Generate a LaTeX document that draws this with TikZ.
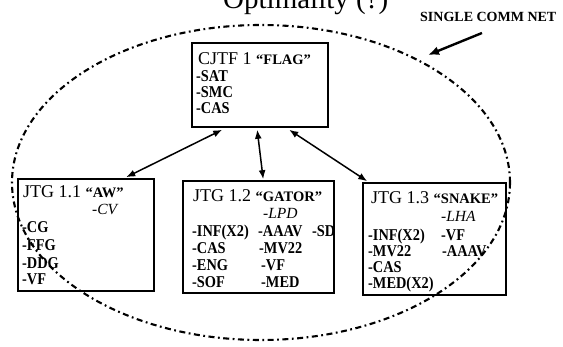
\documentclass[tikz,border=0pt]{standalone}
\usepackage{fontspec}
\setmainfont{Liberation Serif}
\newfontfamily\itemfont{Liberation Serif}[FakeStretch=0.87]
\usetikzlibrary{arrows.meta}
\newcommand\qname[1]{{\fontsize{14.5}{14.5}\selectfont\bfseries “#1”}}
\begin{document}
\begin{tikzpicture}[x=1pt,y=-1pt,
  boxnode/.style={draw,line width=1.6pt,inner sep=0pt},
  ttl/.style={anchor=base west,inner sep=0pt,font=\fontsize{18}{18}\selectfont},
  itm/.style={anchor=base west,inner sep=0pt,font=\itemfont\fontsize{16.5}{16.5}\selectfont\bfseries},
  itl/.style={anchor=base west,inner sep=0pt,font=\fontsize{15.5}{15.5}\selectfont\itshape},
  link/.style={line width=1.5pt,{Latex[length=9pt,width=7pt]}-{Latex[length=9pt,width=7pt]}},
  net/.style={line width=2.1pt,dash pattern=on 6pt off 3.5pt on 1.8pt off 3.5pt}]
\useasboundingbox (0,0) rectangle (563,347);
% title and label
\node[anchor=base west,inner sep=0pt,font=\fontsize{29}{29}\selectfont] (title) at (223,8.5) {Optimality (?)};
\node[anchor=base west,inner sep=0pt,font=\fontsize{14}{14}\selectfont\bfseries] (netlabel) at (420,22) {SINGLE COMM NET};
\coordinate (nettail) at (482,33);
\coordinate (nettip) at (428,55);
% ellipse
\draw[net] (261,182.5) ellipse [x radius=249, y radius=157.5];
\draw[line width=2.4pt,-{Latex[length=11pt,width=9pt]}] (nettail) -- (nettip);
% boxes
\node[boxnode,minimum width=136pt,minimum height=84pt] (cjtf) at (260,85) {};
\node[boxnode,minimum width=136pt,minimum height=112pt] (jtga) at (86,235) {};
\node[boxnode,minimum width=151pt,minimum height=112pt] (jtgb) at (258.5,237) {};
\node[boxnode,minimum width=143pt,minimum height=112pt] (jtgc) at (434.5,239) {};
% CJTF text
\node[ttl] (c0) at (198,65) {CJTF 1 \qname{FLAG}};
\node[itm] (c1) at (196,82) {-SAT};
\node[itm] (c2) at (196,98) {-SMC};
\node[itm] (c3) at (196,114) {-CAS};
% JTG 1.1
\node[ttl] (a0) at (23,198) {JTG 1.1 \qname{AW}};
\node[itl] (a1) at (92,215) {-CV};
\node[itm] (a2) at (22,233) {-CG};
\node[itm] (a3) at (22,251) {-FFG};
\node[itm] (a4) at (22,269) {-DDG};
\node[itm] (a5) at (22,285) {-VF};
% JTG 1.2
\node[ttl] (b0) at (193,202) {JTG 1.2 \qname{GATOR}};
\node[itl] (b1) at (263,219) {-LPD};
\node[itm] (b2) at (192,237) {-INF(X2)};
\node[itm] (b3) at (258,237) {-AAAV};
\node[itm] (b4) at (312,237) {-SD};
\node[itm] (b5) at (192,254) {-CAS};
\node[itm] (b6) at (259,254) {-MV22};
\node[itm] (b7) at (192,271) {-ENG};
\node[itm] (b8) at (261,271) {-VF};
\node[itm] (b9) at (192,288) {-SOF};
\node[itm] (b10) at (261,288) {-MED};
% JTG 1.3
\node[ttl] (d0) at (371,204) {JTG 1.3 \qname{SNAKE}};
\node[itl] (d1) at (441,222) {-LHA};
\node[itm] (d2) at (368,241) {-INF(X2)};
\node[itm] (d3) at (441,241) {-VF};
\node[itm] (d4) at (368,257) {-MV22};
\node[itm] (d5) at (442,257) {-AAAV};
\node[itm] (d6) at (368,273) {-CAS};
\node[itm] (d7) at (368,289) {-MED(X2)};
% connectors
\draw[link] ([shift={(31,2)}]cjtf.south west) -- ([shift={(109,-1)}]jtga.north west);
\draw[link] ([shift={(66,2)}]cjtf.south west) -- ([shift={(81,-1)}]jtgb.north west);
\draw[link] ([shift={(98,2)}]cjtf.south west) -- ([shift={(5,-1)}]jtgc.north west);
\end{tikzpicture}
\end{document}
